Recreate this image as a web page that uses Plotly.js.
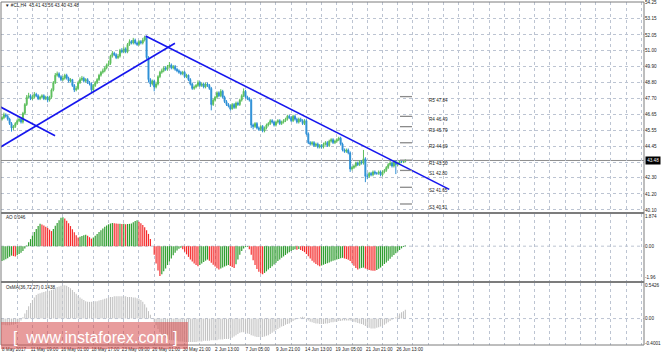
<!DOCTYPE html>
<html><head><meta charset="utf-8">
<script src="https://cdn.plot.ly/plotly-3.0.1.min.js"></script>
<style>html,body{margin:0;padding:0;background:#fff;overflow:hidden}#chart{width:665px;height:356px}</style>
</head><body><div id="chart"></div>
<script>
// ---------------- DATA ----------------
const symbol = '#CL';
const timeframe = 'H4';

const openP = [
46.3,46.4,46.6,46.5,46.3,46.0,45.7,45.8,46.0,46.2,
46.3,46.1,46.7,47.3,47.8,47.9,47.7,47.8,48.0,47.9,
47.7,47.8,47.9,47.7,47.8,47.6,47.8,48.3,48.8,49.3,
49.4,49.2,49.0,49.1,49.3,49.1,48.9,49.0,48.6,48.3,
48.4,48.8,49.0,49.1,48.9,49.0,48.8,48.7,48.3,48.6,
48.8,49.0,49.3,49.5,49.6,49.8,50.0,50.1,50.6,50.8,
50.7,50.5,50.6,51.0,50.9,51.1,50.9,51.4,51.6,51.5,
51.7,51.5,51.4,51.6,51.5,51.7,51.9,50.5,49.0,48.7,
48.9,48.5,48.7,49.2,49.5,49.6,49.8,49.7,49.9,50.0,
49.8,49.9,49.7,49.6,49.5,49.4,49.5,49.2,49.3,49.0,
48.7,48.4,48.5,48.6,48.8,48.6,48.7,48.5,48.7,48.6,
48.4,47.3,47.6,47.8,48.1,47.9,48.2,47.8,47.5,47.3,
47.2,47.0,47.3,47.1,47.4,47.3,47.6,47.9,48.2,47.8,
47.7,47.6,45.9,45.8,46.0,45.7,45.6,45.8,45.5,45.7,
45.9,46.0,46.2,46.1,45.9,46.1,46.2,46.0,46.1,46.2,
46.3,46.5,46.4,46.2,46.5,46.3,46.1,46.3,46.2,46.0,
46.2,45.3,44.7,44.6,44.7,44.5,44.6,44.4,44.5,44.4,
44.6,44.7,44.5,44.8,44.9,44.7,44.8,44.9,45.0,44.6,
44.2,44.1,44.2,44.0,42.9,43.0,43.1,43.3,43.2,43.4,
43.3,43.6,42.4,42.4,42.6,42.5,42.7,42.6,42.6,42.7,
42.5,42.7,42.8,43.0,43.2,43.3,43.1,43.4,43.2,43.3,
43.4,43.38,43.41];

const highP = [
46.5,46.75,46.7,46.6,46.4,46.1,45.9,46.1,46.3,46.45,
46.4,46.8,47.4,47.95,48.1,48.0,47.95,48.15,48.1,48.0,
47.9,48.0,48.0,47.9,47.9,47.9,48.4,48.9,49.45,49.55,
49.5,49.3,49.25,49.4,49.4,49.2,49.1,49.05,48.7,48.55,
48.9,49.15,49.25,49.2,49.1,49.1,48.9,48.8,48.7,48.9,
49.1,49.4,49.6,49.75,49.9,50.1,50.3,50.7,50.95,50.9,
50.8,50.75,51.1,51.15,51.25,51.2,51.5,51.75,51.7,51.85,
51.8,51.6,51.7,51.7,51.85,52.0,51.95,50.6,49.1,49.0,
49.0,48.85,49.3,49.6,49.75,49.9,49.9,50.0,50.2,50.1,
50.0,50.0,49.8,49.7,49.6,49.6,49.6,49.4,49.35,49.1,
48.8,48.6,48.7,48.95,48.9,48.8,48.8,48.8,48.8,48.7,
48.5,47.7,47.9,48.2,48.2,48.35,48.3,47.9,47.6,47.4,
47.3,47.4,47.4,47.5,47.5,47.7,48.0,48.4,48.3,47.9,
47.8,47.7,46.0,46.1,46.1,45.8,45.9,45.9,45.8,46.0,
46.1,46.3,46.3,46.2,46.2,46.3,46.3,46.2,46.3,46.4,
46.6,46.6,46.5,46.6,46.6,46.4,46.4,46.4,46.3,46.3,
46.3,45.4,44.8,44.8,44.8,44.7,44.7,44.6,44.6,44.7,
44.8,44.8,44.9,45.0,45.0,44.9,45.0,45.1,45.1,44.7,
44.3,44.3,44.3,44.1,43.1,43.2,43.4,43.4,43.5,43.5,
44.2,43.7,42.6,42.7,42.7,42.8,42.8,42.7,42.8,42.8,
42.8,42.9,43.1,43.3,43.45,43.4,43.5,43.5,43.4,43.5,
43.5,43.5,43.56];

const lowP = [
46.2,46.3,46.4,46.2,45.9,45.45,45.55,45.7,45.9,46.1,
46.0,46.0,46.6,47.2,47.7,47.6,47.6,47.7,47.8,47.6,
47.6,47.7,47.6,47.6,47.45,47.5,47.7,48.2,48.7,49.2,
49.1,48.9,48.9,49.0,49.0,48.8,48.8,48.5,48.15,48.2,
48.3,48.7,48.9,48.8,48.8,48.7,48.6,48.15,48.2,48.5,
48.7,48.9,49.2,49.4,49.5,49.7,49.9,50.0,50.5,50.6,
50.4,50.4,50.5,50.8,50.8,50.8,50.8,51.3,51.4,51.4,
51.4,51.3,51.3,51.4,51.4,51.6,50.4,48.8,48.5,48.6,
48.2,48.4,48.6,49.1,49.4,49.5,49.6,49.6,49.8,49.7,
49.7,49.6,49.5,49.4,49.3,49.3,49.1,49.1,48.9,48.6,
48.3,48.3,48.4,48.5,48.5,48.5,48.4,48.4,48.5,48.3,
46.9,47.2,47.5,47.7,47.8,47.8,47.7,47.4,47.2,47.1,
46.9,46.95,47.0,47.0,47.2,47.2,47.5,47.8,47.7,47.6,
47.5,45.7,45.6,45.7,45.6,45.5,45.5,45.4,45.4,45.6,
45.8,45.9,46.0,45.8,45.8,46.0,45.9,45.9,46.0,46.1,
46.2,46.3,46.1,46.1,46.2,46.0,46.0,46.1,45.9,45.9,
45.2,44.6,44.5,44.5,44.4,44.4,44.3,44.3,44.3,44.3,
44.5,44.4,44.4,44.7,44.6,44.6,44.7,44.8,44.5,44.1,
44.0,44.0,43.9,42.7,42.8,42.9,43.0,43.1,43.1,43.2,
43.2,42.0,42.2,42.3,42.4,42.4,42.5,42.5,42.5,42.4,
42.4,42.6,42.7,42.9,43.1,43.0,43.0,42.55,43.1,43.2,
43.3,43.3,43.40];

const closeP = [
46.4,46.6,46.5,46.3,46.0,45.7,45.8,46.0,46.2,46.3,
46.1,46.7,47.3,47.8,47.9,47.7,47.8,48.0,47.9,47.7,
47.8,47.9,47.7,47.8,47.6,47.8,48.3,48.8,49.3,49.4,
49.2,49.0,49.1,49.3,49.1,48.9,49.0,48.6,48.3,48.4,
48.8,49.0,49.1,48.9,49.0,48.8,48.7,48.3,48.6,48.8,
49.0,49.3,49.5,49.6,49.8,50.0,50.1,50.6,50.8,50.7,
50.5,50.6,51.0,50.9,51.1,50.9,51.4,51.6,51.5,51.7,
51.5,51.4,51.6,51.5,51.7,51.9,50.5,49.0,48.7,48.9,
48.5,48.7,49.2,49.5,49.6,49.8,49.7,49.9,50.0,49.8,
49.9,49.7,49.6,49.5,49.4,49.5,49.2,49.3,49.0,48.7,
48.4,48.5,48.6,48.8,48.6,48.7,48.5,48.7,48.6,48.4,
47.3,47.6,47.8,48.1,47.9,48.2,47.8,47.5,47.3,47.2,
47.0,47.3,47.1,47.4,47.3,47.6,47.9,48.2,47.8,47.7,
47.6,45.9,45.8,46.0,45.7,45.6,45.8,45.5,45.7,45.9,
46.0,46.2,46.1,45.9,46.1,46.2,46.0,46.1,46.2,46.3,
46.5,46.4,46.2,46.5,46.3,46.1,46.3,46.2,46.0,46.2,
45.3,44.7,44.6,44.7,44.5,44.6,44.4,44.5,44.4,44.6,
44.7,44.5,44.8,44.9,44.7,44.8,44.9,45.0,44.6,44.2,
44.1,44.2,44.0,42.9,43.0,43.1,43.3,43.2,43.4,43.3,
43.6,42.4,42.4,42.6,42.5,42.7,42.6,42.6,42.7,42.5,
42.7,42.8,43.0,43.2,43.3,43.1,43.4,43.2,43.3,43.4,
43.38,43.41,43.48];

const aoValues = [
-0.95,-0.9,-0.83,-0.76,-0.68,-0.6,-0.63,-0.66,-0.58,-0.5,
-0.42,-0.3,-0.15,0.05,0.25,0.45,0.68,0.9,1.1,1.28,
1.42,1.38,1.32,1.24,1.15,1.05,0.96,1.1,1.3,1.48,
1.65,1.8,1.84,1.76,1.62,1.46,1.28,1.08,0.88,0.7,
0.55,0.6,0.65,0.69,0.72,0.66,0.57,0.48,0.55,0.66,
0.78,0.9,1.02,1.13,1.23,1.32,1.39,1.44,1.48,1.46,
1.44,1.42,1.43,1.41,1.42,1.4,1.41,1.42,1.44,1.52,
1.6,1.65,1.56,1.46,1.34,1.2,1.02,0.78,0.45,0.0,
-0.55,-1.1,-1.55,-1.9,-1.78,-1.6,-1.42,-1.2,-0.98,-0.78,
-0.58,-0.42,-0.28,-0.16,-0.1,-0.2,-0.36,-0.52,-0.68,-0.84,
-0.98,-1.1,-1.2,-1.27,-1.2,-1.1,-1.0,-0.92,-0.85,-0.92,
-1.05,-1.18,-1.3,-1.4,-1.48,-1.42,-1.35,-1.29,-1.24,-1.2,
-1.26,-1.32,-1.38,-1.15,-0.85,-0.55,-0.3,-0.14,-0.06,-0.04,
-0.2,-0.55,-0.9,-1.2,-1.45,-1.62,-1.74,-1.78,-1.7,-1.6,
-1.49,-1.38,-1.27,-1.16,-1.05,-0.94,-0.84,-0.74,-0.65,-0.56,
-0.46,-0.38,-0.3,-0.24,-0.2,-0.22,-0.18,-0.24,-0.3,-0.38,
-0.5,-0.64,-0.78,-0.92,-1.04,-1.14,-1.22,-1.27,-1.23,-1.18,
-1.13,-1.08,-1.03,-0.98,-0.93,-0.89,-0.85,-0.81,-0.77,-0.74,
-0.78,-0.82,-0.86,-0.94,-1.08,-1.24,-1.38,-1.48,-1.42,-1.38,
-1.36,-1.42,-1.47,-1.51,-1.54,-1.56,-1.57,-1.52,-1.44,-1.35,
-1.25,-1.14,-1.03,-0.92,-0.8,-0.68,-0.56,-0.45,-0.34,-0.24,
-0.14,-0.05,0.046];

const osmaValues = [
-0.10,-0.10,-0.11,-0.11,-0.11,-0.10,-0.10,-0.09,-0.08,-0.06,-0.03,
0.02,0.08,0.14,0.2,0.25,0.3,0.34,0.38,
0.4,0.41,0.42,0.43,0.44,0.45,0.45,0.46,0.47,
0.49,0.51,0.52,0.53,0.54,
0.54,0.53,0.51,0.49,0.46,0.43,0.4,0.37,0.34,0.32,0.3,0.28,0.27,0.27,
0.27,0.27,0.28,0.28,0.29,0.3,0.31,0.32,0.33,0.34,
0.35,0.35,0.36,0.36,0.36,0.36,0.36,0.36,0.36,0.35,0.35,0.35,0.34,0.34,0.33,0.32,
0.3,0.27,0.23,0.18,0.12,0.06,0.01,
-0.05,-0.11,-0.17,-0.22,-0.26,-0.29,-0.31,-0.33,-0.34,-0.35,-0.35,-0.36,-0.36,
-0.37,-0.37,-0.37,-0.38,-0.38,-0.38,-0.38,-0.38,-0.38,-0.38,-0.37,-0.37,-0.37,-0.36,-0.36,-0.36,-0.36,-0.35,-0.35,-0.35,-0.35,
-0.34,-0.34,-0.34,-0.33,-0.33,-0.33,-0.32,-0.31,-0.29,-0.27,-0.25,-0.23,
-0.22,-0.22,-0.23,-0.24,
-0.25,-0.27,-0.28,-0.29,-0.3,-0.3,-0.3,-0.3,-0.29,-0.28,
-0.27,-0.25,-0.23,-0.21,-0.19,-0.17,-0.15,-0.13,-0.12,-0.1,-0.09,-0.08,
-0.06,-0.04,-0.02,0.0,0.01,0.02,0.03,0.02,
-0.01,-0.03,-0.05,-0.06,-0.07,-0.08,-0.08,-0.09,-0.09,-0.09,-0.08,-0.08,-0.07,-0.06,-0.06,-0.05,
-0.05,-0.04,-0.04,-0.03,-0.03,-0.03,-0.03,-0.03,-0.04,-0.05,-0.06,-0.07,-0.08,-0.09,-0.1,
-0.12,-0.14,-0.15,-0.16,-0.16,-0.16,-0.15,-0.14,-0.13,-0.12,
-0.1,-0.08,-0.06,-0.04,-0.02,0.0,0.02,
0.05,0.08,0.1,0.12,0.1438];

const timeLabels = ['8 May 2017','11 May 09:00','16 May 01:00','18 May 17:00','23 May 09:00','26 May 01:00','30 May 21:00','2 Jun 13:00','7 Jun 05:00','9 Jun 21:00','14 Jun 13:00','19 Jun 05:00','21 Jun 21:00','26 Jun 13:00'];
const timeLabelBars = [0,16,32,48,64,80,96,112,128,144,160,176,192,208];

// price grid levels; the one hidden under the current-price badge has no visible label
const priceGridLevels = ['54.25','53.15','52.05','51.00','49.90','48.80','47.70','46.65','45.55','44.45','43.35','42.30','41.20','40.10'];
const aoTickLabels = ['1.874','0.00','-1.96'];
const osmaTickLabels = ['0.5426','0.00','-0.4001'];

const pivotNames = ['R5','R4','R3','R2','R1','S1','S2','S3'];
const pivotValues = [47.84,46.49,45.79,44.69,43.50,42.80,41.65,40.51];

// trend lines drawn on the chart (bar index, price)
const trendStartBar = [-1.05, -1.05, 75.5];
const trendStartPrice = [47.15, 44.38, 51.98];
const trendEndBar = [27.9, 90.9, 235.1];
const trendEndPrice = [45.17, 51.48, 41.51];

// ---------------- DRAWING ----------------
const bars = closeP.map((_, i) => i);
const last = closeP.length - 1;
const f2 = v => v.toFixed(2);

const W = 665, H = 356, M = {l: 1, r: 21, t: 2, b: 11};
const plotH = H - M.t - M.b, plotW = W - M.l - M.r;
const fy = py => (H - M.b - py) / plotH;
const fx = px => (px - M.l) / plotW;

const FONT = 'Liberation Sans, Arial, sans-serif';
const TXT = '#222';
const GRID = '#bcc4d2';
const xRange = [-0.526, 337.45];
const yPriceRange = [39.963, 54.298];

const gridStep = (timeLabelBars[1] - timeLabelBars[0]) / 2;
const gridVals = [], gridText = [];
for (let b = timeLabelBars[0]; b <= xRange[1]; b += gridStep) {
  gridVals.push(b);
  const k = timeLabelBars.indexOf(b);
  gridText.push(k >= 0 ? timeLabels[k] : '');
}

// labels too close to the current price badge are covered by it (as in the terminal)
const badgeHalf = 0.3;
const priceTickVals = priceGridLevels.map(Number);
const priceTickText = priceGridLevels.map((t, k) => Math.abs(priceTickVals[k] - closeP[last]) < badgeHalf ? '' : t);

const aoColors = aoValues.map((v, i) => (i === 0 || v >= aoValues[i - 1]) ? '#2f9d2f' : '#f42c2c');

const traces = [];
traces.push({
  type: 'candlestick', x: bars, open: openP, high: highP, low: lowP, close: closeP,
  xaxis: 'x', yaxis: 'y', whiskerwidth: 0, hoverinfo: 'skip',
  increasing: {line: {color: '#5dbf5d', width: 1}, fillcolor: '#5dbf5d'},
  decreasing: {line: {color: '#2c8fd6', width: 1}, fillcolor: '#2c8fd6'}
});
for (let k = 0; k < trendStartBar.length; k++) {
  traces.push({
    type: 'scatter', mode: 'lines', xaxis: 'x', yaxis: 'y', hoverinfo: 'skip',
    x: [trendStartBar[k], trendEndBar[k]], y: [trendStartPrice[k], trendEndPrice[k]],
    line: {color: '#1616ee', width: 1.6}
  });
}
traces.push({
  type: 'bar', x: bars, y: aoValues, xaxis: 'x2', yaxis: 'y2', width: 0.62,
  marker: {color: aoColors, line: {width: 0}}, hoverinfo: 'skip'
});
traces.push({
  type: 'bar', x: bars, y: osmaValues, xaxis: 'x3', yaxis: 'y3', width: 0.55,
  marker: {color: '#c2c2c2', line: {width: 0}}, hoverinfo: 'skip'
});

const xCommon = {
  range: xRange, tickmode: 'array', tickvals: gridVals, ticktext: gridText,
  showgrid: true, gridcolor: GRID, griddash: 'dot', gridwidth: 1,
  zeroline: false, showline: false, ticks: '', fixedrange: true
};
const yCommon = {
  side: 'right', tickmode: 'array', zeroline: false, showline: false, ticks: '',
  tickfont: {family: FONT, size: 4.6, color: TXT}, fixedrange: true
};

const shapes = [];
shapes.push({type: 'line', xref: 'paper', x0: 0, x1: 1, yref: 'y', y0: closeP[last], y1: closeP[last],
  line: {color: '#8c8c8c', width: 1}, layer: 'below'});
shapes.push({type: 'line', xref: 'paper', x0: 0, x1: 1, yref: 'y2', y0: 0, y1: 0, line: {color: GRID, width: 1, dash: 'dot'}, layer: 'below'});
shapes.push({type: 'line', xref: 'paper', x0: 0, x1: 1, yref: 'y3', y0: 0, y1: 0, line: {color: GRID, width: 1, dash: 'dot'}, layer: 'below'});
pivotValues.forEach(v => shapes.push({type: 'line', xref: 'x', yref: 'y', x0: 209.2, x1: 215.5, y0: v, y1: v,
  line: {color: '#8a8a8a', width: 1.3}}));
shapes.push({type: 'rect', xref: 'paper', yref: 'paper', x0: 0, x1: 1, y0: fy(214), y1: fy(212), fillcolor: '#7c7c7c', line: {width: 0}});
shapes.push({type: 'rect', xref: 'paper', yref: 'paper', x0: 0, x1: 1, y0: fy(283), y1: fy(281), fillcolor: '#7c7c7c', line: {width: 0}});
shapes.push({type: 'rect', xref: 'paper', yref: 'paper', x0: 0, x1: 1, y0: 0, y1: 1, line: {color: '#7c7c7c', width: 1}});
shapes.push({type: 'rect', xref: 'paper', yref: 'paper', x0: fx(1), x1: fx(188), y0: fy(349), y1: fy(322),
  fillcolor: 'rgba(214,74,74,0.55)', line: {width: 0}});

const annotations = [];
annotations.push({xref: 'paper', yref: 'paper', x: fx(3), y: fy(6), xanchor: 'left', yanchor: 'middle', showarrow: false,
  text: '\u25BC ' + symbol + ',' + timeframe + '\u00a0 ' + [openP[last], highP[last], lowP[last], closeP[last]].map(f2).join(' '),
  font: {family: FONT, size: 4.6, color: TXT}});
annotations.push({xref: 'paper', yref: 'paper', x: fx(4), y: fy(218), xanchor: 'left', yanchor: 'middle', showarrow: false,
  text: 'AO ' + aoValues[last].toFixed(3), font: {family: FONT, size: 4.6, color: TXT}});
annotations.push({xref: 'paper', yref: 'paper', x: fx(4), y: fy(287), xanchor: 'left', yanchor: 'middle', showarrow: false,
  text: 'OsMA(36,72,27) ' + osmaValues[last].toFixed(4), font: {family: FONT, size: 4.6, color: TXT}});
pivotNames.forEach((n, k) => annotations.push({xref: 'x', yref: 'y', x: 223.4, y: pivotValues[k], yshift: -3.5,
  xanchor: 'left', yanchor: 'middle', showarrow: false, text: n + ' ' + f2(pivotValues[k]),
  font: {family: FONT, size: 4.6, color: TXT}}));
annotations.push({xref: 'paper', yref: 'y', x: 1, y: closeP[last], xanchor: 'left', yanchor: 'middle', xshift: 1,
  showarrow: false, text: f2(closeP[last]), bgcolor: '#000', borderpad: 1.2,
  font: {family: FONT, size: 4.6, color: '#fff'}});
annotations.push({xref: 'paper', yref: 'paper', x: fx(95), y: fy(337), xanchor: 'center', yanchor: 'middle', showarrow: false,
  text: '[\u00a0\u00a0www.instaforex.com\u00a0]', font: {family: FONT, size: 16, color: '#ffffff'}});

const layout = {
  width: W, height: H, margin: {l: M.l, r: M.r, t: M.t, b: M.b, pad: 0},
  paper_bgcolor: '#fff', plot_bgcolor: '#fff', showlegend: false, hovermode: false,
  font: {family: FONT, size: 4.6, color: TXT},
  xaxis: Object.assign({}, xCommon, {anchor: 'y', showticklabels: false, rangeslider: {visible: false}}),
  xaxis2: Object.assign({}, xCommon, {anchor: 'y2', matches: 'x', showticklabels: false}),
  xaxis3: Object.assign({}, xCommon, {anchor: 'y3', matches: 'x', showticklabels: true,
    tickfont: {family: FONT, size: 4.6, color: TXT}, ticklabelshift: 12}),
  yaxis: Object.assign({}, yCommon, {anchor: 'x', domain: [fy(212), 1], range: yPriceRange,
    tickvals: priceTickVals, ticktext: priceTickText, showgrid: true, gridcolor: GRID, griddash: 'dot'}),
  yaxis2: Object.assign({}, yCommon, {anchor: 'x2', domain: [fy(281), fy(214)], range: [-2.214, 2.046],
    tickvals: aoTickLabels.map(Number), ticktext: aoTickLabels, showgrid: false}),
  yaxis3: Object.assign({}, yCommon, {anchor: 'x3', domain: [0, fy(283)], range: [-0.4276, 0.575],
    tickvals: osmaTickLabels.map(Number), ticktext: osmaTickLabels, showgrid: false}),
  shapes: shapes, annotations: annotations
};

Plotly.newPlot('chart', traces, layout, {staticPlot: true, displayModeBar: false});
</script>
</body></html>
